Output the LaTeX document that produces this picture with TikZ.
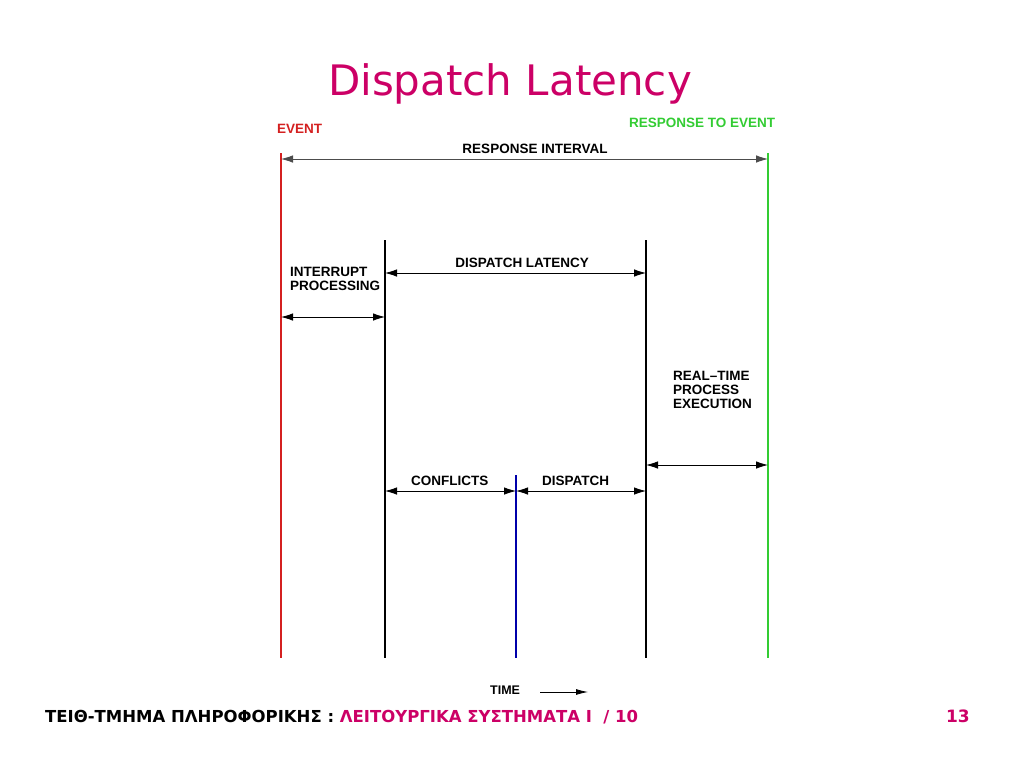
\documentclass[tikz,border=0pt]{standalone}
\usepackage{fontspec}
\setmainfont{Liberation Sans}
\newfontfamily\titlefont{DejaVu Sans}
\newfontfamily\footfont{DejaVu Sans}
\usetikzlibrary{arrows.meta}
\definecolor{slidepink}{HTML}{CC0066}
\definecolor{eventred}{HTML}{D42020}
\definecolor{respgreen}{HTML}{33CC33}
\definecolor{mixblue}{HTML}{0000AA}
\tikzset{
  timeline/.style={line width=2pt},
  span/.style={{Latex[length=12pt,width=7.5pt]}-{Latex[length=12pt,width=7.5pt]}, line width=0.8pt},
  lbl/.style={font=\bfseries\fontsize{13.5}{13.8}\selectfont, inner sep=0pt, align=left}
}
\begin{document}
\begin{tikzpicture}[x=1pt,y=-1pt]
  \useasboundingbox (0,0) rectangle (1024,768);
  % title
  \node[anchor=base, text=slidepink, font=\titlefont\fontsize{42}{46}\selectfont] (title) at (510,95) {Dispatch Latency};
  % end points of the time lines
  \coordinate (evT) at (281,153); \coordinate (evB) at (281,658);
  \coordinate (irT) at (385,240); \coordinate (irB) at (385,658);
  \coordinate (cfT) at (516,475); \coordinate (cfB) at (516,658);
  \coordinate (dpT) at (646,240); \coordinate (dpB) at (646,658);
  \coordinate (rsT) at (768,153); \coordinate (rsB) at (768,658);
  \draw[timeline, eventred] (evT) -- (evB);
  \draw[timeline] (irT) -- (irB);
  \draw[timeline, mixblue] (cfT) -- (cfB);
  \draw[timeline] (dpT) -- (dpB);
  \draw[timeline, respgreen] (rsT) -- (rsB);
  % interval ends
  \coordinate (ri1) at (281,159); \coordinate (ri2) at (768,159);
  \coordinate (dl1) at (385,273); \coordinate (dl2) at (646,273);
  \coordinate (ip1) at (281,317); \coordinate (ip2) at (385,317);
  \coordinate (rt1) at (646,465); \coordinate (rt2) at (768,465);
  \coordinate (cf1) at (385,491); \coordinate (cf2) at (516,491);
  \coordinate (ds1) at (516,491); \coordinate (ds2) at (646,491);
  \draw[span, black!70] (ri1) -- (ri2);
  \draw[span] (dl1) -- (dl2);
  \draw[span] (ip1) -- (ip2);
  \draw[span] (rt1) -- (rt2);
  \draw[span] (cf1) -- (cf2);
  \draw[span] (ds1) -- (ds2);
  % labels
  \node[lbl, text=eventred, anchor=base west] (event) at (277,133) {EVENT};
  \node[lbl, text=respgreen, anchor=base west] (resp) at (629,127) {RESPONSE TO EVENT};
  \node[lbl, anchor=base] (respint) at (535,153) {RESPONSE INTERVAL};
  \node[lbl, anchor=base] (displat) at (522,267) {DISPATCH LATENCY};
  \node[lbl, anchor=north west] (intproc) at (290,267) {INTERRUPT\\PROCESSING};
  \node[lbl, anchor=north west] (rtexec) at (673,371) {REAL--TIME\\PROCESS\\EXECUTION};
  \node[lbl, anchor=base west] (confl) at (411,485) {CONFLICTS};
  \node[lbl, anchor=base west] (disp) at (542,485) {DISPATCH};
  \node[lbl, anchor=base west, font=\bfseries\fontsize{12.5}{13}\selectfont] (time) at (490,694) {TIME};
  \coordinate (tm1) at (540,692); \coordinate (tm2) at (588,692);
  \draw[-{Latex[length=12pt,width=6pt]}, line width=0.8pt] (tm1) -- (tm2);
  % footer
  \node[anchor=base west, inner sep=0pt, font=\footfont\bfseries\fontsize{16.5}{18}\selectfont] (foot) at (45,722)
    {ΤΕΙΘ-ΤΜΗΜΑ ΠΛΗΡΟΦΟΡΙΚΗΣ : \textcolor{slidepink}{ΛΕΙΤΟΥΡΓΙΚΑ ΣΥΣΤΗΜΑΤΑ Ι~~/ 10}};
  \node[anchor=base east, inner sep=0pt, text=slidepink, font=\footfont\bfseries\fontsize{17}{18}\selectfont] (page) at (970,722) {13};
\end{tikzpicture}
\end{document}
